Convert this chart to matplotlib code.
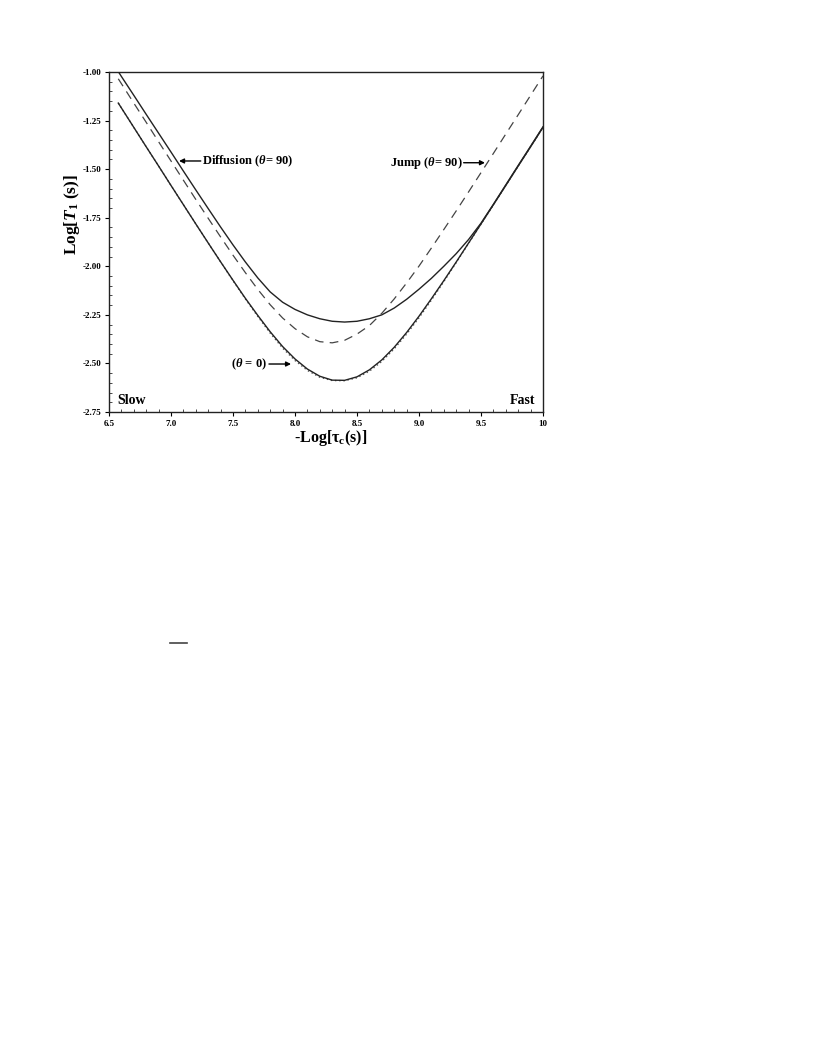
import matplotlib
matplotlib.use("Agg")
import matplotlib.pyplot as plt
from matplotlib.lines import Line2D
from matplotlib.ticker import MultipleLocator, FixedLocator, FixedFormatter

plt.rcParams['font.family'] = ['Liberation Serif', 'DejaVu Serif']
plt.rcParams['font.weight'] = 'bold'
plt.rcParams['mathtext.fontset'] = 'custom'
plt.rcParams['mathtext.rm'] = 'Liberation Serif:bold'
plt.rcParams['mathtext.it'] = 'Liberation Serif:italic:bold'
plt.rcParams['mathtext.bf'] = 'Liberation Serif:bold'

# -Log[tau_c] grid
x_vals = [6.575, 6.6, 6.7, 6.8, 6.9, 7.0, 7.1, 7.2, 7.3, 7.4, 7.5, 7.6, 7.7, 7.8,
          7.9, 8.0, 8.1, 8.2, 8.3, 8.4, 8.5, 8.6, 8.7, 8.8, 8.9, 9.0, 9.1, 9.2,
          9.3, 9.4, 9.5, 9.6, 9.7, 9.8, 9.9, 10.0]

# Diffusion (theta = 90), solid upper
diffusion_90 = [-0.998, -1.023, -1.120, -1.218, -1.315, -1.412, -1.510, -1.607,
                -1.703, -1.798, -1.890, -1.978, -2.060, -2.132, -2.185, -2.222,
                -2.250, -2.270, -2.283, -2.287, -2.283, -2.270, -2.250, -2.215,
                -2.170, -2.118, -2.062, -2.000, -1.935, -1.862, -1.778, -1.681,
                -1.581, -1.481, -1.382, -1.282]

# Jump (theta = 90), dashed
jump_90 = [-1.035, -1.060, -1.160, -1.259, -1.359, -1.458, -1.557, -1.656,
           -1.753, -1.849, -1.943, -2.033, -2.119, -2.198, -2.266, -2.321,
           -2.363, -2.388, -2.394, -2.381, -2.349, -2.305, -2.242, -2.168,
           -2.086, -1.999, -1.906, -1.811, -1.715, -1.617, -1.518, -1.419,
           -1.319, -1.220, -1.120, -1.020]

# theta = 0, solid lower
theta_0 = [-1.160, -1.185, -1.285, -1.385, -1.484, -1.584, -1.683, -1.782,
           -1.880, -1.977, -2.072, -2.165, -2.253, -2.337, -2.413, -2.477,
           -2.529, -2.566, -2.586, -2.587, -2.569, -2.533, -2.482, -2.417,
           -2.341, -2.257, -2.167, -2.074, -1.978, -1.880, -1.782, -1.683,
           -1.584, -1.484, -1.385, -1.285]

# theta = 0 (second model), dotted, nearly coincident
theta_0_dot = [-1.160, -1.185, -1.285, -1.385, -1.484, -1.584, -1.683, -1.782,
               -1.880, -1.977, -2.074, -2.168, -2.258, -2.344, -2.421, -2.485,
               -2.536, -2.571, -2.588, -2.589, -2.574, -2.540, -2.490, -2.425,
               -2.349, -2.265, -2.174, -2.079, -1.981, -1.882, -1.783, -1.684,
               -1.584, -1.484, -1.385, -1.285]

x_ticks = [6.5, 7.0, 7.5, 8.0, 8.5, 9.0, 9.5, 10.0]
x_tick_labels = ['6.5', '7.0', '7.5', '8.0', '8.5', '9.0', '9.5', '10']
y_ticks = [-1.00, -1.25, -1.50, -1.75, -2.00, -2.25, -2.50, -2.75]
y_tick_labels = ['-1.00', '-1.25', '-1.50', '-1.75', '-2.00', '-2.25', '-2.50', '-2.75']

fig = plt.figure(figsize=(8.16, 10.56), dpi=100)
ax = fig.add_axes([109/816, 1-412/1056, 434/816, 340/1056])

ax.plot(x_vals, theta_0_dot, color='#555555', lw=1.0, linestyle=(0, (1, 2)), zorder=2)
ax.plot(x_vals, theta_0, color='#222222', lw=1.0, zorder=3)
ax.plot(x_vals, diffusion_90, color='#222222', lw=1.0, zorder=3)
ln, = ax.plot(x_vals, jump_90, color='#444444', lw=0.9, zorder=3)
ln.set_dashes([7, 5])

ax.set_xlim(6.5, 10.0)
ax.set_ylim(-2.75, -1.00)
ax.xaxis.set_major_locator(FixedLocator(x_ticks))
ax.xaxis.set_major_formatter(FixedFormatter(x_tick_labels))
ax.yaxis.set_major_locator(FixedLocator(y_ticks))
ax.yaxis.set_major_formatter(FixedFormatter(y_tick_labels))
ax.xaxis.set_minor_locator(MultipleLocator(0.1))
ax.yaxis.set_minor_locator(MultipleLocator(0.05))
ax.tick_params(which='major', direction='out', length=3, width=0.8, labelsize=6.5, pad=2.5)
ax.tick_params(which='minor', direction='in', length=2, width=0.5)
for lab in ax.get_xticklabels() + ax.get_yticklabels():
    lab.set_fontweight('bold')
for s in ax.spines.values():
    s.set_linewidth(1.0)
    s.set_color('#222222')

ax.set_xlabel(r'-Log[$\mathrm{\tau}_{\mathrm{c}}$(s)]', fontsize=11.5, fontweight='bold', va='center')
ax.xaxis.set_label_coords((331 - 109) / 434, (412 - 438) / 340)
ax.set_ylabel(r'Log[$T_{\mathrm{1}}$ (s)]', fontsize=12.5, fontweight='bold', va='center')
ax.yaxis.set_label_coords((72 - 109) / 434, (412 - 214) / 340)

arrow = dict(arrowstyle='-|>', lw=1.0, color='k', mutation_scale=7, shrinkA=0, shrinkB=0)
ax.annotate('', xy=(7.065, -1.458), xytext=(7.24, -1.458), arrowprops=arrow)
ax.text(7.25, -1.458, r'Diffusion ($\theta$= 90)', fontsize=9, fontweight='bold', va='center', ha='left')

ax.annotate('', xy=(9.532, -1.467), xytext=(9.36, -1.467), arrowprops=arrow)
ax.text(9.355, -1.467, r'Jump ($\theta$= 90)', fontsize=9, fontweight='bold', va='center', ha='right')

ax.annotate('', xy=(7.968, -2.503), xytext=(7.79, -2.503), arrowprops=arrow)
ax.text(7.775, -2.503, r'($\theta$ = 0)', fontsize=9, fontweight='bold', va='center', ha='right')

ax.text(6.565, -2.692, 'Slow', fontsize=10, fontweight='bold', va='center', ha='left')
ax.text(9.935, -2.692, 'Fast', fontsize=10, fontweight='bold', va='center', ha='right')

fig.add_artist(Line2D([170/816, 187/816], [1-643/1056, 1-643/1056],
                      transform=fig.transFigure, lw=1.2, color='#444444'))

fig.savefig('out.png', dpi=100)
